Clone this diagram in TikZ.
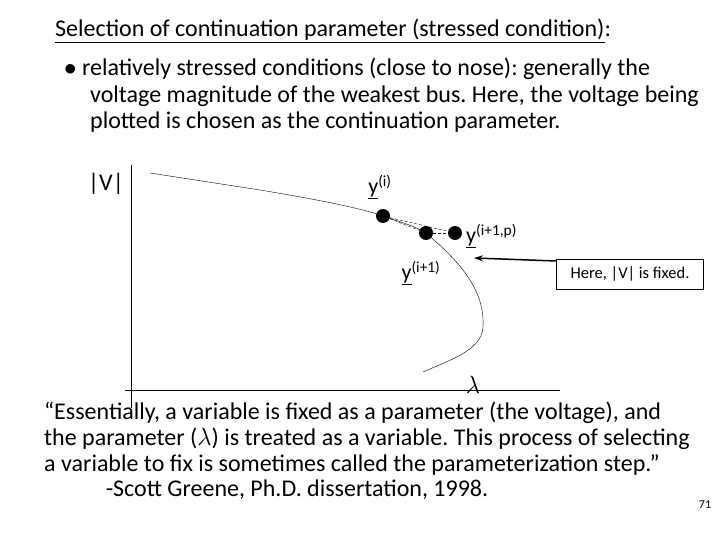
\documentclass[tikz,border=0pt]{standalone}
\usepackage{fontspec}
\setmainfont{Carlito}
\usetikzlibrary{arrows.meta}
\frenchspacing
\begin{document}
\begin{tikzpicture}[x=1pt,y=-1pt,
  txt/.style={inner sep=0pt,font=\fontsize{24}{26.5}\selectfont},
  lab/.style={inner sep=0pt,font=\fontsize{22}{24}\selectfont},
  dot/.style={circle,fill=black,inner sep=0pt,minimum size=14pt},
  dsh/.style={densely dashed,thin}]
\useasboundingbox (0,0) rectangle (720,540);
\node[txt,anchor=west] (title) at (55,31) {\underline{Selection of continuation parameter (stressed condition)}:};
\node[txt,anchor=north west,align=left] (bul) at (64,58) {$\bullet$ relatively stressed conditions (close to nose): generally the\\
\hspace*{26pt}voltage magnitude of the weakest bus. Here, the voltage being\\
\hspace*{26pt}plotted is chosen as the continuation parameter.};
\node[txt] (V) at (106,184) {|V|};
\coordinate (va) at (131,165); \coordinate (vb) at (131,408);
\coordinate (ha) at (125,390); \coordinate (hb) at (560,390);
\draw[thick] (va) -- (vb);
\draw[thick] (ha) -- (hb);
\node[dot] (d1) at (383,216) {};
\node[dot] (d2) at (426,233) {};
\node[dot] (d3) at (455,233) {};
\coordinate (c0) at (150,173);
\coordinate (nose) at (483,327);
\coordinate (cend) at (423,372);
\draw[thin] (c0) -- (260,190) .. controls (320,200) and (360,208) .. (d1.center)
  .. controls (400,222) and (415,226) .. (d2.center)
  .. controls (460,262) and (485,290) .. (nose)
  .. controls (482,350) and (450,360) .. (cend);
\draw[dsh] (d1) -- (d2);
\draw[dsh] (d1) -- (d3);
\draw[dsh] (d2) -- (d3);
\node[lab] (y1) at (380,187) {\underline{y}\textsuperscript{(i)}};
\node[lab,anchor=west] (y3) at (466,236) {\underline{y}\textsuperscript{(i+1,p)}};
\node[lab] (y2) at (421,273) {\underline{y}\textsuperscript{(i+1)}};
\node[draw,thin,inner sep=0pt,minimum width=147pt,minimum height=30pt,font=\fontsize{16.5}{18}\selectfont] (box) at (630,274) {Here, |V| is fixed.};
\coordinate (tip) at (474,258);
\draw[-{Stealth[length=9pt,width=6pt]},line width=1.5pt] ([yshift=13pt]box.west) -- (tip);
\node[font=\fontsize{24}{24}\selectfont,inner sep=0pt] (lam) at (473,385) {$\lambda$};
\node[txt,anchor=north west,align=left] (q) at (44,402) {``Essentially, a variable is fixed as a parameter (the voltage), and\\[-0.5pt]
the parameter ($\lambda$) is treated as a variable. This process of selecting\\[-0.5pt]
a variable to fix is sometimes called the parameterization step.''};
\node[txt] (sg) at (297,490) {-Scott Greene, Ph.D. dissertation, 1998.};
\node[inner sep=0pt,font=\fontsize{12}{12}\selectfont] (pg) at (705,505) {71};
\end{tikzpicture}
\end{document}
